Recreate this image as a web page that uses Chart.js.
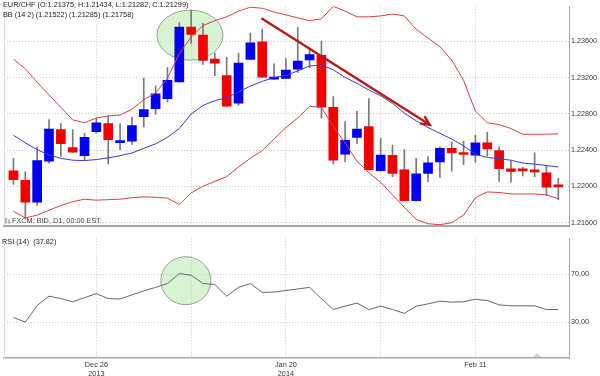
<!DOCTYPE html>
<html>
<head>
<meta charset="utf-8">
<title>EUR/CHF daily</title>
<script src="https://cdn.jsdelivr.net/npm/chart.js@4.4.1/dist/chart.umd.min.js"></script>
<style>
    body { margin: 0; background: #fff; }
    #wrap { position: relative; width: 600px; height: 376px; }
    canvas { position: absolute; left: 0; }
    #priceChart { top: 0; }
    #rsiChart { top: 232px; }
</style>
</head>
<body>
<div id="wrap">
    <canvas id="priceChart" width="600" height="232"></canvas>
    <canvas id="rsiChart" width="600" height="144"></canvas>
</div>
<script>
// daily candles, bar index 0..46
const opens = [1.22173, 1.22067, 1.21826, 1.22279, 1.22629, 1.22428, 1.22340, 1.22605, 1.22693, 1.22484,
    1.22499, 1.22770, 1.22859, 1.22969, 1.23152, 1.23757, 1.23669, 1.23404, 1.23223, 1.22919,
    1.23401, 1.23595, 1.23184, 1.23192, 1.23294, 1.23396, 1.23446, 1.22873, 1.22356, 1.22541,
    1.22661, 1.22176, 1.22343, 1.22184, 1.21844, 1.22144, 1.22272, 1.22420, 1.22361, 1.22346,
    1.22481, 1.22396, 1.22194, 1.22191, 1.22176, 1.22152, 1.22014];
const highs = [1.22311, 1.22162, 1.22435, 1.22738, 1.22693, 1.22629, 1.22587, 1.22753, 1.22781, 1.22693,
    1.22764, 1.23195, 1.23110, 1.23311, 1.23807, 1.23942, 1.23799, 1.23471, 1.23425, 1.23471,
    1.23693, 1.23736, 1.23354, 1.23411, 1.23754, 1.23507, 1.23605, 1.22993, 1.22717, 1.22828,
    1.22969, 1.22534, 1.22456, 1.22406, 1.22311, 1.22329, 1.22438, 1.22491, 1.22499, 1.22569,
    1.22597, 1.22438, 1.22279, 1.22215, 1.22371, 1.22237, 1.22091];
const lows = [1.22024, 1.21656, 1.21791, 1.22258, 1.22332, 1.22375, 1.22290, 1.22587, 1.22250, 1.22406,
    1.22463, 1.22658, 1.22799, 1.22934, 1.23150, 1.23577, 1.23347, 1.23223, 1.22880, 1.22894,
    1.23398, 1.23200, 1.23180, 1.23188, 1.23258, 1.23311, 1.22753, 1.22250, 1.22272, 1.22473,
    1.22180, 1.22168, 1.22109, 1.21839, 1.21839, 1.22053, 1.22099, 1.22170, 1.22240, 1.22268,
    1.22335, 1.22056, 1.22049, 1.22117, 1.22109, 1.21897, 1.21855];
const closes = [1.22074, 1.21826, 1.22286, 1.22632, 1.22473, 1.22378, 1.22541, 1.22703, 1.22516, 1.22499,
    1.22672, 1.22849, 1.23022, 1.23170, 1.23757, 1.23676, 1.23390, 1.23361, 1.22887, 1.23361,
    1.23584, 1.23205, 1.23205, 1.23284, 1.23382, 1.23454, 1.22876, 1.22290, 1.22509, 1.22632,
    1.22187, 1.22346, 1.22144, 1.21844, 1.22141, 1.22261, 1.22420, 1.22371, 1.22353, 1.22481,
    1.22414, 1.22197, 1.22166, 1.22173, 1.22162, 1.21993, 1.21996];

// Bollinger bands (14, 2)
const bbUpper = [1.23404, 1.23298, 1.23149, 1.23011, 1.22873, 1.22735, 1.22703, 1.22756, 1.22778, 1.22788,
    1.22852, 1.22958, 1.23032, 1.23192, 1.23467, 1.23648, 1.23775, 1.23828, 1.23871, 1.23934,
    1.23977, 1.23966, 1.23924, 1.23892, 1.23860, 1.23828, 1.23849, 1.23987, 1.23934, 1.23871,
    1.23871, 1.23881, 1.23902, 1.23881, 1.23733, 1.23637, 1.23542, 1.23393, 1.23170, 1.22831,
    1.22703, 1.22682, 1.22640, 1.22576, 1.22576, 1.22576, 1.22581];
const bbMiddle = [1.22566, 1.22481, 1.22406, 1.22348, 1.22311, 1.22290, 1.22286, 1.22297, 1.22316, 1.22340,
    1.22369, 1.22422, 1.22470, 1.22544, 1.22640, 1.22799, 1.22894, 1.22947, 1.22979, 1.23043,
    1.23107, 1.23160, 1.23202, 1.23223, 1.23276, 1.23329, 1.23340, 1.23287, 1.23202, 1.23138,
    1.23064, 1.23001, 1.22916, 1.22810, 1.22725, 1.22650, 1.22587, 1.22523, 1.22449, 1.22353,
    1.22321, 1.22306, 1.22290, 1.22258, 1.22247, 1.22231, 1.22215];
const bbLower = [1.21727, 1.21653, 1.21685, 1.21738, 1.21791, 1.21833, 1.21860, 1.21849, 1.21855, 1.21860,
    1.21876, 1.21886, 1.21881, 1.21871, 1.21802, 1.21929, 1.22003, 1.22056, 1.22109, 1.22215,
    1.22311, 1.22396, 1.22523, 1.22650, 1.22756, 1.22884, 1.22873, 1.22661, 1.22481, 1.22279,
    1.22152, 1.22046, 1.21908, 1.21770, 1.21637, 1.21589, 1.21579, 1.21600, 1.21685, 1.21876,
    1.21940, 1.21934, 1.21918, 1.21918, 1.21918, 1.21908, 1.21865];

// RSI (14)
const rsiValues = [33.9, 30.0, 43.9, 51.7, 49.6, 47.0, 50.4, 53.8, 49.6, 49.3,
    52.7, 56.1, 59.0, 62.2, 70.5, 69.2, 62.2, 61.4, 51.7, 59.0,
    62.2, 54.8, 55.1, 56.4, 57.7, 59.0, 49.6, 40.5, 43.3, 45.9,
    40.5, 43.3, 40.5, 37.3, 43.3, 45.2, 47.5, 46.7, 47.0, 49.1,
    48.0, 44.4, 43.6, 43.6, 43.6, 40.5, 40.5];

const dateTicks = [7, 15, 23, 31, 39];
const dateLabels = [['Dec 26', '2013'], '', ['Jan 20', '2014'], '', 'Feb 11'];
const priceTicks = [1.216, 1.220, 1.224, 1.228, 1.232, 1.236];
const rsiTicks = [30, 70];

// drawn notes, in data units
const peakMark = { x: 14.9, y: 1.23669, rx: 33, ry: 25 };
const rsiMark = { x: 14.55, y: 64.6, rx: 25, ry: 24 };
const trendArrow = { x1: 21, y1: 1.23849, x2: 35.15, y2: 1.22682 };

const FONT = 'Arial, "Liberation Sans", sans-serif';
const TEXT = '#333';
const GRID = '#c8c8c8';
const FRAME = '#a8a8a8';
const UP = '#0000f2';
const DOWN = '#f20000';

const idx = opens.map((_, i) => i);
const candleColors = idx.map(i => closes[i] >= opens[i] ? UP : DOWN);

function xScale(showLabels) {
    return {
        type: 'linear',
        min: -0.8,
        max: 46.9,
        offset: false,
        grid: { offset: false, color: GRID, drawTicks: false },
        border: { display: true, color: FRAME, width: showLabels ? 1.5 : 2, dash: [1, 2] },
        afterBuildTicks: s => { s.ticks = dateTicks.map(v => ({ value: v })); },
        afterFit: s => { s.height = showLabels ? 18 : 0; },
        ticks: {
            display: showLabels,
            autoSkip: false,
            maxRotation: 0,
            padding: 2,
            color: TEXT,
            font: { family: FONT, size: 7.3, lineHeight: 1.25 },
            callback: (v, i) => dateLabels[i]
        }
    };
}

function yScale(min, max, tickList, digits) {
    return {
        type: 'linear',
        position: 'right',
        min: min,
        max: max,
        beginAtZero: false,
        grid: { color: GRID, drawTicks: false },
        border: { display: true, color: FRAME, width: 1, dash: [1, 2] },
        afterBuildTicks: s => { s.ticks = tickList.map(v => ({ value: v })); },
        afterFit: s => { s.width = 31; },
        ticks: {
            padding: 2,
            color: TEXT,
            font: { family: FONT, size: 7.2 },
            callback: v => v.toFixed(digits)
        }
    };
}

function drawEllipse(chart, mark) {
    const { ctx, scales } = chart;
    const cx = scales.x.getPixelForValue(mark.x);
    const cy = scales.y.getPixelForValue(mark.y);
    ctx.save();
    ctx.beginPath();
    ctx.ellipse(cx, cy, mark.rx, mark.ry, 0, 0, Math.PI * 2);
    ctx.fillStyle = 'rgba(176, 232, 164, 0.5)';
    ctx.fill();
    ctx.lineWidth = 1;
    ctx.strokeStyle = '#8fa58c';
    ctx.stroke();
    ctx.restore();
}

function leftEdge(chart) {
    const { ctx, chartArea } = chart;
    ctx.save();
    ctx.strokeStyle = '#dcdcdc';
    ctx.lineWidth = 1;
    ctx.beginPath();
    ctx.moveTo(chartArea.left + 0.5, chartArea.top);
    ctx.lineTo(chartArea.left + 0.5, chartArea.bottom);
    ctx.stroke();
    ctx.restore();
}

const priceNotes = {
    id: 'priceNotes',
    beforeDatasetsDraw(chart) {
        leftEdge(chart);
        drawEllipse(chart, peakMark);
    },
    afterDatasetsDraw(chart) {
        const { ctx, scales } = chart;
        const x1 = scales.x.getPixelForValue(trendArrow.x1);
        const y1 = scales.y.getPixelForValue(trendArrow.y1);
        const x2 = scales.x.getPixelForValue(trendArrow.x2);
        const y2 = scales.y.getPixelForValue(trendArrow.y2);
        const a = Math.atan2(y2 - y1, x2 - x1);
        ctx.save();
        ctx.strokeStyle = '#b41a1a';
        ctx.lineWidth = 2.4;
        ctx.lineCap = 'round';
        ctx.beginPath();
        ctx.moveTo(x1, y1);
        ctx.lineTo(x2, y2);
        ctx.moveTo(x2 - 9 * Math.cos(a - 0.45), y2 - 9 * Math.sin(a - 0.45));
        ctx.lineTo(x2, y2);
        ctx.lineTo(x2 - 9 * Math.cos(a + 0.45), y2 - 9 * Math.sin(a + 0.45));
        ctx.stroke();
        ctx.restore();
    },
    afterDraw(chart) {
        const { ctx, chartArea } = chart;
        ctx.save();
        ctx.fillStyle = '#222';
        ctx.font = '7.3px ' + FONT;
        ctx.textBaseline = 'middle';
        ctx.fillText('EUR/CHF (O:1.21375, H:1.21434, L:1.21282, C:1.21299)', 3, 5);
        ctx.fillText('BB (14 2) (1.21522) (1.21285) (1.21758)', 3, 15);
        ctx.fillStyle = '#444';
        ctx.fillText('FXCM: BID, D1, 00:00 EST', 12, chartArea.bottom - 4.5);
        // small feed icon
        ctx.fillStyle = '#b8b8b8';
        ctx.fillRect(5, chartArea.bottom - 8, 2, 6);
        ctx.fillRect(8, chartArea.bottom - 6, 2, 4);
        ctx.restore();
    }
};

const rsiNotes = {
    id: 'rsiNotes',
    beforeDatasetsDraw(chart) {
        leftEdge(chart);
        drawEllipse(chart, rsiMark);
    },
    afterDraw(chart) {
        const { ctx, chartArea } = chart;
        ctx.save();
        ctx.fillStyle = '#222';
        ctx.font = '7.3px ' + FONT;
        ctx.textBaseline = 'middle';
        ctx.fillText('RSI (14)  (37.82)', 2, chartArea.top + 4);
        // scroll marker
        ctx.fillStyle = '#d0d0d0';
        ctx.beginPath();
        ctx.moveTo(533, chartArea.bottom - 1);
        ctx.lineTo(537, chartArea.bottom - 5);
        ctx.lineTo(541, chartArea.bottom - 1);
        ctx.closePath();
        ctx.fill();
        ctx.restore();
    }
};

const lineStyle = { type: 'line', pointRadius: 0, borderWidth: 1, tension: 0, fill: false };

new Chart(document.getElementById('priceChart').getContext('2d'), {
    type: 'bar',
    data: {
        datasets: [
            {
                label: 'wick',
                data: idx.map(i => ({ x: i, y: [lows[i], highs[i]] })),
                backgroundColor: '#7a7a7a',
                barThickness: 1,
                grouped: false,
                order: 4
            },
            {
                label: 'body',
                data: idx.map(i => ({ x: i, y: [opens[i], closes[i]] })),
                backgroundColor: candleColors,
                barThickness: 9,
                minBarLength: 2,
                grouped: false,
                order: 3
            },
            { ...lineStyle, label: 'upper', data: idx.map(i => ({ x: i, y: bbUpper[i] })), borderColor: '#e04040', order: 1 },
            { ...lineStyle, label: 'middle', data: idx.map(i => ({ x: i, y: bbMiddle[i] })), borderColor: '#3a3ad6', order: 1 },
            { ...lineStyle, label: 'lower', data: idx.map(i => ({ x: i, y: bbLower[i] })), borderColor: '#e04040', order: 1 }
        ]
    },
    options: {
        responsive: false,
        animation: false,
        layout: { padding: { left: 4, top: 3, right: 0, bottom: 1 } },
        plugins: { legend: { display: false }, tooltip: { enabled: false } },
        scales: {
            x: xScale(false),
            y: yScale(1.21568, 1.23987, priceTicks, 5)
        }
    },
    plugins: [priceNotes]
});

new Chart(document.getElementById('rsiChart').getContext('2d'), {
    type: 'line',
    data: {
        datasets: [
            { ...lineStyle, label: 'RSI', data: idx.map(i => ({ x: i, y: rsiValues[i] })), borderColor: '#666' }
        ]
    },
    options: {
        responsive: false,
        animation: false,
        layout: { padding: { left: 4, top: 0, right: 0, bottom: 0 } },
        plugins: { legend: { display: false }, tooltip: { enabled: false } },
        scales: {
            x: xScale(true),
            y: yScale(0, 100, rsiTicks, 2)
        }
    },
    plugins: [rsiNotes]
});
</script>
</body>
</html>
